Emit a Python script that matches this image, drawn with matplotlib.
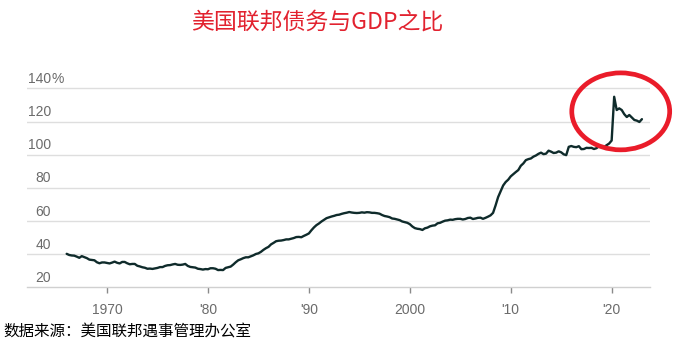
import numpy as np
import matplotlib
matplotlib.use("Agg")
import matplotlib.pyplot as plt
from matplotlib.patches import Ellipse

plt.rcParams['font.family'] = ['Noto Sans CJK SC', 'DejaVu Sans']

# federal debt as % of GDP, quarterly, 1966 Q1 onward
first_year = 1966
debt_pct = [
    40.3, 39.6, 39.3, 39.2,
    38.6, 37.9, 38.9, 38.3,
    37.7, 36.8, 36.6, 36.4,
    35.2, 34.6, 35.1, 35.1,
    34.8, 34.5, 35.0, 35.6,
    34.9, 34.5, 35.4, 35.4,
    34.6, 34.0, 34.2, 34.2,
    33.1, 32.7, 32.2, 31.9,
    31.3, 31.4, 31.2, 31.5,
    31.8, 32.3, 32.3, 33.0,
    33.4, 33.5, 33.9, 34.2,
    33.7, 33.6, 33.8, 34.2,
    33.0, 32.4, 32.2, 32.0,
    31.3, 31.1, 30.8, 31.1,
    31.0, 31.6, 31.6, 31.3,
    30.5, 30.6, 30.5, 31.8,
    32.2, 32.6, 33.8, 35.2,
    36.4, 37.0, 37.7, 38.2,
    38.2, 38.8, 39.4, 40.2,
    40.6, 41.5, 42.7, 43.7,
    44.5, 46.0, 46.9, 47.9,
    48.2, 48.3, 48.6, 49.0,
    49.0, 49.4, 49.8, 50.4,
    50.5, 50.3, 51.1, 51.8,
    52.6, 54.5, 56.2, 57.6,
    58.6, 59.8, 60.8, 61.8,
    62.3, 62.8, 63.2, 63.7,
    63.9, 64.4, 64.8, 65.1,
    65.5, 65.2, 65.0, 64.9,
    65.0, 65.3, 65.1, 65.4,
    65.3, 65.0, 65.0, 64.8,
    64.5, 63.7, 63.1, 62.8,
    62.4, 61.6, 61.4, 61.0,
    60.6, 59.8, 59.4, 59.0,
    58.2, 56.8, 55.8, 55.4,
    55.2, 54.7, 55.7, 56.1,
    56.9, 57.3, 57.5, 58.7,
    59.0, 59.7, 60.3, 60.5,
    60.9, 60.8, 61.2, 61.4,
    61.4, 61.0, 61.3, 61.9,
    62.1, 61.3, 61.6, 62.0,
    62.1, 61.4, 62.0, 62.7,
    63.5, 65.0, 69.5, 74.5,
    78.0, 81.5, 83.6, 85.0,
    87.0, 88.3, 89.6, 90.8,
    93.4, 94.8, 96.8, 97.4,
    97.8, 98.9, 99.6, 100.6,
    101.3, 100.4, 100.7, 102.5,
    101.9, 101.1, 101.3, 102.1,
    101.5, 100.3, 99.8, 104.8,
    105.3, 104.8, 104.6, 105.2,
    103.4, 103.5, 104.2, 104.1,
    104.2, 103.5, 104.0, 105.2,
    104.8, 104.7, 105.8, 106.8,
    108.6, 135.0, 127.0, 128.0,
    127.0, 124.5, 122.8, 124.0,
    122.5, 121.0, 120.6, 119.8,
    121.5,
]

x_ticks = [1970, 1980, 1990, 2000, 2010, 2020]
x_labels = ['1970', "'80", "'90", '2000', "'10", "'20"]
y_ticks = [20, 40, 60, 80, 100, 120, 140]

years = first_year + np.arange(len(debt_pct)) / 4

fig = plt.figure(figsize=(6.9, 3.45), dpi=100)
ax = fig.add_axes([27 / 690, 0.1667, 623 / 690, 0.6009])

ax.plot(years, debt_pct, color='#0f2b2b', lw=1.7, solid_capstyle='round', zorder=3)

ax.set_xlim(1962.07, 2023.8)
ax.set_ylim(20, 145)

for s in ['top', 'right', 'left']:
    ax.spines[s].set_visible(False)
ax.spines['bottom'].set_color('#d0d0d0')
ax.spines['bottom'].set_linewidth(1.0)

ax.set_yticks(y_ticks[1:])
ax.yaxis.grid(True, color='#dedede', lw=1.0)
ax.tick_params(axis='y', length=0, labelleft=False)

ax.set_xticks(x_ticks)
ax.set_xticklabels(x_labels)
ax.tick_params(axis='x', direction='out', length=4, width=1, color='#8a8a8a',
               labelcolor='#6b6b6b', labelsize=10, pad=7)
for lab in ax.get_xticklabels():
    lab.set_family(['Liberation Sans', 'DejaVu Sans'])

# y labels sit just above their gridlines
lab_x = 24 / 623
for v in y_ticks:
    ax.annotate(str(v), xy=(lab_x, v), xycoords=('axes fraction', 'data'),
                xytext=(0, 4), textcoords='offset points', ha='right', va='baseline',
                color='#6b6b6b', fontsize=10, family=['Liberation Sans', 'DejaVu Sans'])
ax.annotate('%', xy=(lab_x, y_ticks[-1]), xycoords=('axes fraction', 'data'),
            xytext=(0, 4), textcoords='offset points', ha='left', va='baseline',
            color='#6b6b6b', fontsize=10, family=['Liberation Sans', 'DejaVu Sans'])

# red ring around the 2020 spike
ring = Ellipse((2020.9, 126.2), 9.7, 46.4, fill=False, edgecolor='#ea1c2a',
               lw=3.4, clip_on=False, zorder=4)
ax.add_patch(ring)

fig.text(317 / 690, 1 - 22 / 345, '美国联邦债务与GDP之比', color='#e2222f',
         fontsize=16.5, ha='center', va='center')
fig.text(3 / 690, 1 - 332 / 345, '数据来源：美国联邦遇事管理办公室', color='black',
         fontsize=11.2, ha='left', va='center')

fig.savefig('out.png', dpi=100)
